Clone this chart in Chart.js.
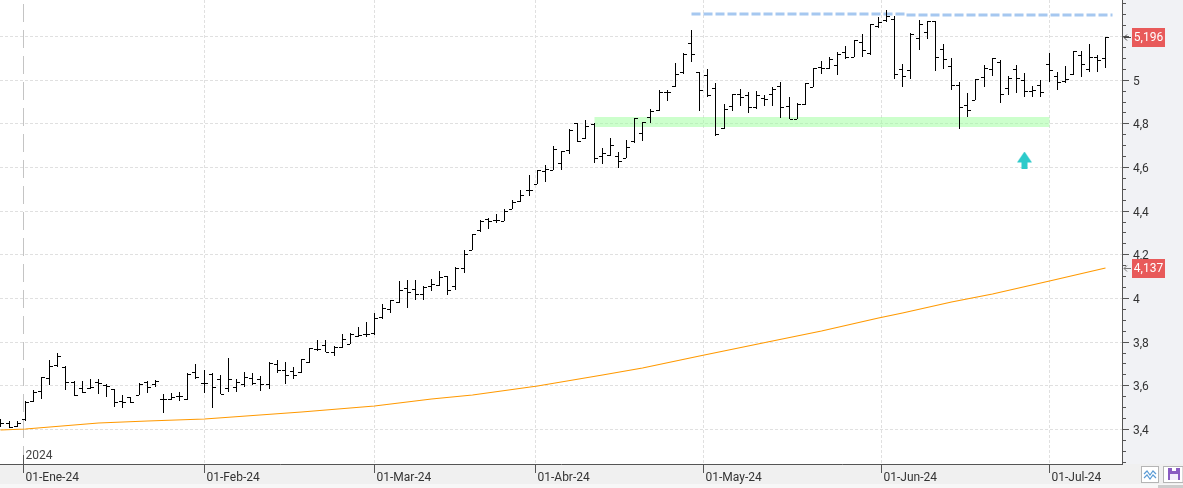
<!DOCTYPE html>
<html lang="es">
<head>
<meta charset="utf-8">
<title>Chart</title>
<style>
html,body{margin:0;padding:0;width:1183px;height:488px;overflow:hidden;background:#fff}
#wrap{position:relative;width:1183px;height:488px}
canvas{display:block}
svg.btn{position:absolute}
</style>
<script src="https://cdn.jsdelivr.net/npm/chart.js@4/dist/chart.umd.js"></script>
</head>
<body>
<div id="wrap">
<canvas id="c" width="1183" height="488"></canvas>
<svg class="btn" style="left:1141px;top:466px" width="18" height="17" viewBox="0 0 18 17"><rect x=".5" y=".5" width="17" height="16" fill="#fff" stroke="#b5b5b5"/><path d="M3 8l3-3 3 4 3-4 3 3M3 12l3-3 3 4 3-4 3 3" fill="none" stroke="#5b9bd5" stroke-width="1.2"/></svg>
<svg class="btn" style="left:1163px;top:466px" width="20" height="17" viewBox="0 0 20 17"><rect x=".5" y=".5" width="19.5" height="16" fill="#fff" stroke="#b5b5b5"/><path d="M5 2h12v12H5z" fill="#8a5cc2"/><rect x="9" y="2" width="4" height="3" fill="#fff"/><rect x="7" y="8" width="8" height="6" fill="#f4eefc"/></svg>
</div>
<script>
const opens=[3.432,3.427,3.413,3.446,3.528,3.574,3.633,3.693,3.684,3.615,
3.587,3.587,3.615,3.601,3.583,3.528,3.546,3.555,3.615,3.606,
3.537,3.537,3.551,3.537,3.661,3.610,3.652,3.629,3.587,3.592,
3.606,3.633,3.629,3.606,3.698,3.670,3.665,3.661,3.707,3.766,
3.785,3.753,3.775,3.789,3.826,3.835,3.839,3.913,3.950,3.982,
4.045,4.041,4.018,4.054,4.059,4.100,4.054,4.137,4.220,4.311,
4.361,4.357,4.352,4.407,4.444,4.495,4.522,4.581,4.586,4.618,
4.678,4.801,4.733,4.797,4.651,4.655,4.651,4.641,4.719,4.756,
4.829,4.861,4.944,4.971,5.035,5.168,5.035,5.022,4.962,4.778,
4.880,4.935,4.930,4.875,4.916,4.935,4.971,4.880,4.820,4.889,
4.967,5.058,5.054,5.067,5.127,5.104,5.173,5.122,5.246,5.274,
5.279,5.049,5.045,5.191,5.219,5.269,5.141,5.063,4.976,4.884,
4.907,5.013,5.049,5.081,4.962,5.049,4.999,4.949,4.976,5.072,
5.017,4.994,5.027,5.113,5.049,5.104,5.099];
const highs=[3.446,3.436,3.436,3.528,3.578,3.638,3.716,3.748,3.689,3.619,
3.619,3.629,3.629,3.606,3.583,3.555,3.546,3.610,3.619,3.624,
3.560,3.564,3.569,3.656,3.698,3.670,3.656,3.647,3.725,3.629,
3.661,3.656,3.643,3.707,3.716,3.707,3.684,3.721,3.771,3.807,
3.807,3.780,3.835,3.839,3.867,3.889,3.931,3.973,3.991,4.077,
4.082,4.082,4.054,4.086,4.123,4.100,4.141,4.220,4.293,4.357,
4.366,4.384,4.407,4.449,4.495,4.563,4.586,4.609,4.696,4.673,
4.774,4.801,4.815,4.801,4.687,4.733,4.669,4.724,4.825,4.806,
4.866,4.953,4.953,5.076,5.122,5.228,5.035,5.049,4.985,4.889,
4.935,4.958,4.944,4.949,4.930,4.967,4.990,4.921,4.893,4.985,
5.054,5.086,5.104,5.127,5.154,5.182,5.209,5.255,5.287,5.320,
5.292,5.072,5.215,5.274,5.269,5.269,5.163,5.099,4.990,4.939,
5.004,5.067,5.099,5.090,5.017,5.067,5.031,4.971,4.999,5.122,
5.035,5.063,5.131,5.131,5.163,5.113,5.196];
const lows=[3.409,3.404,3.409,3.436,3.523,3.537,3.601,3.684,3.578,3.551,
3.564,3.583,3.560,3.546,3.500,3.495,3.518,3.555,3.564,3.592,
3.473,3.532,3.528,3.532,3.629,3.564,3.495,3.560,3.569,3.569,
3.592,3.601,3.574,3.583,3.656,3.606,3.629,3.656,3.702,3.757,
3.753,3.734,3.771,3.789,3.821,3.821,3.830,3.904,3.931,3.977,
3.954,3.991,3.991,4.032,4.054,4.013,4.036,4.114,4.220,4.302,
4.316,4.343,4.352,4.407,4.440,4.468,4.522,4.531,4.586,4.586,
4.659,4.714,4.728,4.618,4.614,4.651,4.595,4.641,4.710,4.719,
4.801,4.857,4.902,4.967,5.026,5.081,4.857,4.921,4.743,4.774,
4.857,4.880,4.848,4.866,4.880,4.880,4.825,4.820,4.820,4.884,
4.967,5.026,5.049,5.022,5.095,5.104,5.104,5.113,5.237,5.264,
5.004,4.967,5.004,5.136,5.186,5.040,5.049,4.953,4.774,4.829,
4.907,4.967,5.017,4.893,4.930,4.939,4.921,4.921,4.921,4.990,
4.953,4.985,5.022,5.013,5.035,5.035,5.054];
const closes=[3.427,3.409,3.427,3.523,3.569,3.638,3.689,3.735,3.615,3.555,
3.569,3.592,3.610,3.597,3.523,3.523,3.523,3.606,3.592,3.619,
3.537,3.546,3.551,3.652,3.638,3.610,3.592,3.560,3.629,3.615,
3.638,3.610,3.606,3.702,3.670,3.647,3.647,3.721,3.771,3.766,
3.753,3.775,3.812,3.835,3.830,3.835,3.908,3.954,3.991,4.036,
4.027,4.018,4.050,4.063,4.095,4.036,4.137,4.201,4.293,4.352,
4.352,4.357,4.398,4.440,4.472,4.495,4.586,4.590,4.682,4.673,
4.770,4.719,4.788,4.641,4.664,4.701,4.627,4.692,4.825,4.806,
4.857,4.944,4.944,5.026,5.118,5.118,4.953,4.930,4.752,4.866,
4.935,4.921,4.875,4.930,4.912,4.958,4.875,4.820,4.889,4.985,
5.054,5.054,5.095,5.118,5.104,5.182,5.136,5.255,5.264,5.292,
5.027,5.017,5.210,5.255,5.269,5.104,5.095,4.976,4.875,4.861,
5.004,5.054,5.099,4.935,5.008,5.008,4.949,4.953,4.944,5.045,
4.990,5.004,5.131,5.072,5.104,5.090,5.196];

const maIndex=[0,3,12,18,25,37,46,53,58,66,74,79,86,95,101,108,111,117,122,129,136];
const maValues=[3.395,3.400,3.425,3.434,3.445,3.476,3.507,3.536,3.555,3.597,3.647,3.679,3.735,3.801,3.848,3.906,3.930,3.980,4.019,4.078,4.137];

const monthTicks=[2.76,25,46,65.77,86.5,108.4,129];
const monthLabels=['01-Ene-24','01-Feb-24','01-Mar-24','01-Abr-24','01-May-24','01-Jun-24','01-Jul-24'];
const yearTick=2.76, yearLabel='2024';
const priceTicks=[3.4,3.6,3.8,4,4.2,4.4,4.6,4.8,5,5.2];
const hiddenPriceLabels=[5.2];
const minorTicks=[3.25,3.3,3.35,3.4,3.45,3.5,3.55,3.6,3.65,3.7,3.75,3.8,3.85,3.9,3.95,4,4.05,4.1,4.15,4.2,4.25,4.3,4.35,4.4,4.45,4.5,4.55,4.6,4.65,4.7,4.75,4.8,4.85,4.9,4.95,5,5.05,5.1,5.15,5.2,5.25,5.3,5.35];
const supportBand=[{x:73,y:4.806},{x:129,y:4.806}];
const resistance=[{x:85,y:5.302},{x:111.3,y:5.302},{x:111.3,y:5.298},{x:136.75,y:5.298}];
const arrowPoints=[{x:126,y:4.632}];
const priceTags=[{value:5.196,arrow:'#444'},{value:4.137,arrow:'#777'}];
const yMin=3.2415,yMax=5.3675,xMin=-0.111,xMax=137.98;

class SnapScale extends Chart.LinearScale{
  getPixelForValue(v){
    const p=super.getPixelForValue(v);
    return this.isHorizontal()?Math.floor(p)+0.5:Math.floor(p);
  }
}
SnapScale.id='snap';
SnapScale.defaults=Chart.LinearScale.defaults;
Chart.register(SnapScale);

function noPad(s){s.paddingLeft=0;s.paddingRight=0;s.paddingTop=0;s.paddingBottom=0;}
function tickImage(side){
  const c=document.createElement('canvas');c.width=7;c.height=2;
  const g=c.getContext('2d');g.fillStyle='#000';
  g.fillRect(side<0?0:4,1,3,1);
  return c;
}
function arrowImage(){
  const c=document.createElement('canvas');c.width=15;c.height=17;
  const g=c.getContext('2d');g.fillStyle='#2ccaca';
  g.beginPath();g.moveTo(7.5,0);g.lineTo(15,11);g.lineTo(10.5,11);g.lineTo(10.5,17);g.lineTo(4.5,17);g.lineTo(4.5,11);g.lineTo(0,11);g.closePath();g.fill();
  return c;
}
const FONT='Roboto';
Chart.defaults.font.family=FONT;Chart.defaults.font.size=12;

const panels={id:'panels',beforeDraw(ch){
  const g=ch.ctx,a=ch.chartArea;
  g.save();
  g.fillStyle='#f1f2f5';g.fillRect(a.right,0,ch.width-a.right,a.bottom);
  g.fillStyle='#f0f0f0';g.fillRect(0,a.bottom,ch.width,24);
  g.fillStyle='#f7f7f7';g.fillRect(0,484,ch.width,4);
  g.fillStyle='#cdcdcd';g.fillRect(1158,485,25,3);
  g.fillStyle='#fff';g.fillRect(a.left,a.top,a.right-a.left,a.bottom-a.top);
  g.restore();
}};
const overlay={id:'overlay',afterDraw(ch){
  const g=ch.ctx,y=ch.scales.y,x=ch.scales.x,a=ch.chartArea;
  g.save();
  const yx=x.getPixelForValue(yearTick);
  g.strokeStyle='#555';g.lineWidth=1;g.beginPath();g.moveTo(yx,455);g.lineTo(yx,a.bottom);g.stroke();
  g.fillStyle='#444';g.font='12px '+FONT;g.textBaseline='middle';g.textAlign='left';
  g.fillText(yearLabel,yx+2,456);
  priceTags.forEach(t=>{
    const py=y.getPixelForValue(t.value);
    g.fillStyle='#e85a5a';g.fillRect(1132,py-9,33,19);
    g.fillStyle='#fff';g.textAlign='center';
    g.fillText(String(t.value).replace('.',','),1148.5,py+0.5);
    g.strokeStyle=t.arrow;g.beginPath();
    g.moveTo(1131,py+.5);g.lineTo(1124,py+.5);g.moveTo(1127,py-2.5);g.lineTo(1124,py+.5);g.lineTo(1127,py+3.5);g.stroke();
  });
  g.restore();
}};

new Chart(document.getElementById('c'),{
  type:'bar',
  plugins:[panels,overlay],
  data:{datasets:[
    {type:'line',order:0,showLine:false,pointStyle:tickImage(-1),pointRadius:3,data:opens.map((v,i)=>({x:i,y:v}))},
    {type:'line',order:0,showLine:false,pointStyle:tickImage(1),pointRadius:3,data:closes.map((v,i)=>({x:i,y:v}))},
    {type:'line',order:0,showLine:false,pointStyle:arrowImage(),pointRadius:8,data:arrowPoints},
    {type:'bar',order:1,barThickness:1,grouped:false,inflateAmount:0,backgroundColor:'#000',borderWidth:0,data:highs.map((h,i)=>({x:i,y:[lows[i],h]}))},
    {type:'line',order:2,borderColor:'#a6c8f0',borderWidth:3,borderDash:[9,3],pointRadius:0,tension:0,data:resistance},
    {type:'line',order:3,borderColor:'#ff9900',borderWidth:1.2,pointRadius:0,tension:0,data:maIndex.map((x,i)=>({x,y:maValues[i]}))},
    {type:'line',order:5,borderColor:'rgba(153,255,153,.5)',borderWidth:10,borderCapStyle:'butt',pointRadius:0,data:supportBand},
    {type:'line',order:6,borderColor:'#c4c4c4',borderWidth:1,borderDash:[18,8],pointRadius:0,data:[{x:yearTick,y:yMin},{x:yearTick,y:yMax}]}
  ]},
  options:{
    responsive:false,animation:false,
    layout:{padding:0,autoPadding:false},
    plugins:{legend:{display:false},tooltip:{enabled:false}},
    events:[],
    scales:{
      x:{type:'snap',position:'bottom',min:xMin,max:xMax,offset:false,
        afterBuildTicks(s){s.ticks=monthTicks.map(v=>({value:v}));},
        afterFit(s){s.height=24;noPad(s);},
        border:{color:'#555',dash:[3,2]},
        grid:{color:c=>c.index===0?'transparent':'#e0e0e0',tickColor:'#555',tickLength:9,offset:false},
        ticks:{autoSkip:false,maxRotation:0,align:'start',labelOffset:2,padding:-2,color:'#333',
          callback:(v,i)=>monthLabels[i]}
      },
      y:{type:'snap',position:'right',weight:0,min:yMin,max:yMax,
        afterBuildTicks(s){s.ticks=minorTicks.map(v=>({value:v}));},
        afterFit(s){s.width=4;noPad(s);},
        border:{color:'#555'},
        grid:{drawOnChartArea:false,tickColor:'#555',tickLength:4},
        ticks:{display:false}
      },
      y2:{type:'snap',position:'right',weight:1,min:yMin,max:yMax,
        afterBuildTicks(s){s.ticks=priceTicks.map(v=>({value:v}));},
        afterFit(s){s.width=57;noPad(s);},
        border:{display:false,dash:[3,2]},
        grid:{color:'#e0e0e0',tickColor:'#555',tickLength:3},
        ticks:{crossAlign:'near',padding:4,labelOffset:2,color:'#333',autoSkip:false,
          callback:v=>hiddenPriceLabels.includes(v)?'':String(v).replace('.',',')}
      }
    }
  }
});
</script>
</body>
</html>
